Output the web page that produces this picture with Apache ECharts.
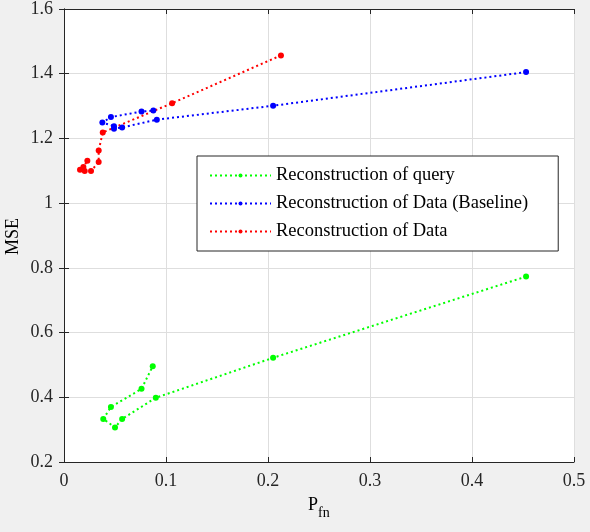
<!DOCTYPE html>
<html>
<head>
<meta charset="utf-8">
<script src="https://cdn.jsdelivr.net/npm/echarts@6/dist/echarts.min.js"></script>
<style>
  html, body { margin: 0; padding: 0; background: #f0f0f0; }
  #chart { width: 590px; height: 532px; }
</style>
</head>
<body>
<div id="chart"></div>
<script>
// P_fn and MSE, in plotting order
const queryX = [0.453, 0.205, 0.090, 0.057, 0.050, 0.0385, 0.046, 0.076, 0.087]
const queryY = [0.773, 0.522, 0.3985, 0.333, 0.307, 0.333, 0.370, 0.426, 0.496]
const baseX = [0.453, 0.205, 0.091, 0.057, 0.049, 0.049, 0.0376, 0.046, 0.076, 0.0876]
const baseY = [1.405, 1.301, 1.258, 1.234, 1.230, 1.238, 1.249, 1.266, 1.283, 1.286]
const dataX = [0.2127, 0.106, 0.038, 0.034, 0.034, 0.0265, 0.0203, 0.0157, 0.019, 0.0229]
const dataY = [1.4566, 1.309, 1.2186, 1.163, 1.127, 1.099, 1.099, 1.103, 1.112, 1.131]
const seriesNames = ['Reconstruction of query', 'Reconstruction of Data (Baseline)', 'Reconstruction of Data']
const seriesColors = ['#00ff00', '#0000ff', '#ff0000']

const axisColor = '#262626'
const font = 'Liberation Serif, Times New Roman, serif'

function pairs(xs, ys) {
    return xs.map((x, i) => [x, ys[i]])
}

function makeSeries(name, color, xs, ys) {
    return {
        name: name,
        type: 'line',
        data: pairs(xs, ys),
        symbol: 'circle',
        symbolSize: 6,
        itemStyle: { color: color },
        lineStyle: { color: color, width: 2, type: [2, 3] },
        emphasis: { disabled: true },
        animation: false
    }
}

const chart = echarts.init(document.getElementById('chart'))

const hiddenAxis = {
    axisLabel: { show: false },
    axisLine: { lineStyle: { color: axisColor } },
    axisTick: { inside: true, length: 5, lineStyle: { color: axisColor } },
    splitLine: { show: false }
}

const option = {
    backgroundColor: '#f0f0f0',
    textStyle: { fontFamily: font },
    grid: {
        left: 64, right: 16, top: 9, bottom: 70,
        show: true, backgroundColor: '#fff', borderWidth: 0
    },
    xAxis: [{
        type: 'value', min: 0, max: 0.5, interval: 0.1,
        axisLine: { lineStyle: { color: axisColor } },
        axisTick: { inside: true, length: 5, lineStyle: { color: axisColor } },
        axisLabel: { color: axisColor, fontSize: 18, fontFamily: font, margin: 10 },
        splitLine: { lineStyle: { color: '#dedede' } }
    }, Object.assign({ type: 'value', position: 'top', min: 0, max: 0.5, interval: 0.1 }, hiddenAxis)],
    yAxis: [{
        type: 'value', min: 0.2, max: 1.6, interval: 0.2,
        axisLine: { show: true, lineStyle: { color: axisColor } },
        axisTick: { show: true, inside: true, length: 5, lineStyle: { color: axisColor } },
        axisLabel: { color: axisColor, fontSize: 18, fontFamily: font, margin: 11 },
        splitLine: { lineStyle: { color: '#dedede' } }
    }, Object.assign({ type: 'value', position: 'right', min: 0.2, max: 1.6, interval: 0.2 }, hiddenAxis)],
    legend: {
        orient: 'vertical',
        left: 197, top: 156,
        padding: [10, 30, 10, 12],
        itemWidth: 61, itemHeight: 5, itemGap: 9,
        backgroundColor: '#fff',
        borderColor: axisColor, borderWidth: 1,
        textStyle: { color: '#000', fontSize: 18.5, fontFamily: font },
        data: seriesNames
    },
    graphic: [
        {
            type: 'text', left: 4, top: 218, rotation: Math.PI / 2,
            style: { text: 'MSE', fontSize: 18, fontFamily: font, fill: '#000' }
        },
        {
            type: 'text', left: 308, top: 496,
            style: { text: 'P', fontSize: 18, fontFamily: font, fill: '#000' }
        },
        {
            type: 'text', left: 318, top: 506,
            style: { text: 'fn', fontSize: 14, fontFamily: font, fill: '#000' }
        }
    ],
    series: [
        makeSeries(seriesNames[0], seriesColors[0], queryX, queryY),
        makeSeries(seriesNames[1], seriesColors[1], baseX, baseY),
        makeSeries(seriesNames[2], seriesColors[2], dataX, dataY)
    ]
}

chart.setOption(option)
</script>
</body>
</html>
